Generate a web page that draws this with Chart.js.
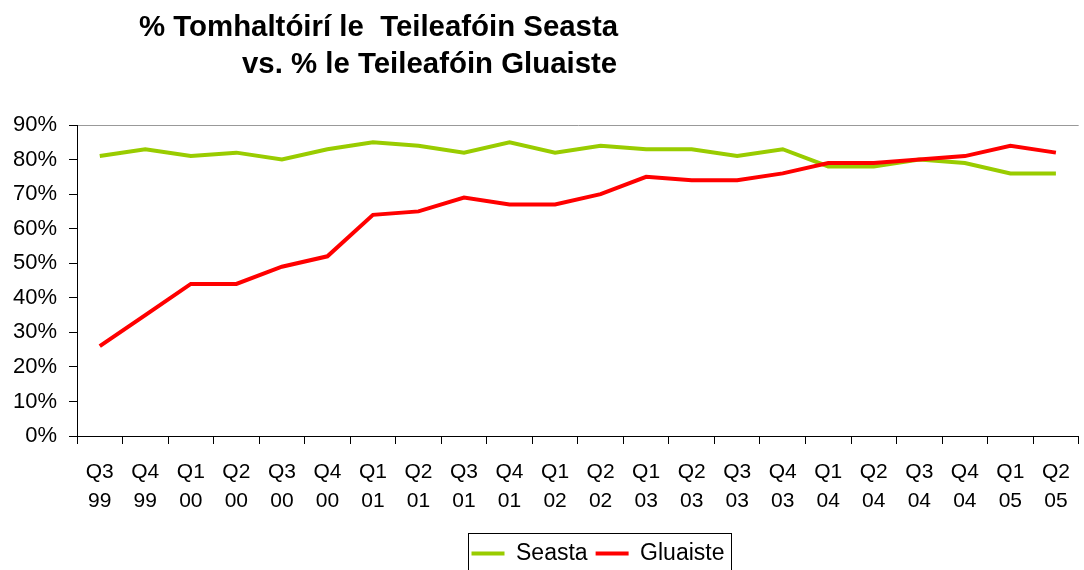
<!DOCTYPE html>
<html><head><meta charset="utf-8">
<script src="https://cdn.jsdelivr.net/npm/chart.js@4.4.0/dist/chart.umd.min.js"></script>
<style>
html,body{margin:0;padding:0;background:#fff;}
#wrap{position:relative;width:1084px;height:570px;overflow:hidden;background:#fff;}
canvas{position:absolute;left:0;top:0;}
.t{position:absolute;font:bold 29.4px 'Liberation Sans',Arial,sans-serif;line-height:29px;white-space:pre;color:#000;}
</style></head><body>
<div id="wrap">
<canvas id="c" width="1084" height="570"></canvas>
<div class="t" style="left:139px;top:10.5px">% Tomhaltóirí le  Teileafóin Seasta</div>
<div class="t" style="left:242px;top:47.5px">vs. % le Teileafóin Gluaiste</div>
</div>
<script>
const categories = ['Q3 99','Q4 99','Q1 00','Q2 00','Q3 00','Q4 00','Q1 01','Q2 01','Q3 01','Q4 01','Q1 02','Q2 02','Q1 03','Q2 03','Q3 03','Q4 03','Q1 04','Q2 04','Q3 04','Q4 04','Q1 05','Q2 05'];
const seasta = [81,83,81,82,80,83,85,84,82,85,82,84,83,83,81,83,78,78,80,79,76,76];
const gluaiste = [26,35,44,44,49,52,64,65,69,67,67,70,75,74,74,76,79,79,80,81,84,82];
const yTicks = [0,10,20,30,40,50,60,70,80,90];
const seriesNames = ['Seasta','Gluaiste'];

const FONT = "'Liberation Sans', Arial, sans-serif";
const LEGEND_CENTER = 598;

const legendFrame = {
  id: 'legendFrame',
  afterUpdate(chart) {
    const lg = chart.legend;
    if (!lg || !lg.legendHitBoxes || !lg.legendHitBoxes.length) return;
    const hb = lg.legendHitBoxes;
    const c = (hb[0].left + hb[hb.length-1].left + hb[hb.length-1].width) / 2;
    const dx = LEGEND_CENTER - c;
    lg.left += dx; lg.right += dx;
    lg.adjustHitBoxes();
  },
  afterDraw(chart) {
    const lg = chart.legend;
    const hb = lg.legendHitBoxes;
    const ctx = chart.ctx;
    const l = Math.round(hb[0].left - 4) + 0.5;
    const r = Math.round(hb[hb.length-1].left + hb[hb.length-1].width + 7) + 0.5;
    const t = Math.round(lg.top) - 0.5;
    ctx.save();
    ctx.strokeStyle = '#000';
    ctx.lineWidth = 1;
    ctx.strokeRect(l, t, r - l, 60);
    ctx.restore();
  }
};

new Chart(document.getElementById('c'), {
  type: 'line',
  data: {
    labels: categories.map(c => c.split(' ')),
    datasets: [
      { label: seriesNames[0], data: seasta, borderColor: '#99cc00', backgroundColor: '#99cc00', borderWidth: 4, pointRadius: 0, tension: 0, order: 1 },
      { label: seriesNames[1], data: gluaiste, borderColor: '#ff0000', backgroundColor: '#ff0000', borderWidth: 4, pointRadius: 0, tension: 0, order: 0 }
    ]
  },
  options: {
    responsive: false,
    devicePixelRatio: 1,
    animation: false,
    layout: { padding: { left: 0, right: 4, top: 125, bottom: -5 } },
    plugins: {
      title: { display: false },
      tooltip: { enabled: false },
      legend: {
        position: 'bottom',
        labels: {
          font: { family: FONT, size: 23 },
          color: '#000',
          boxWidth: 33,
          boxHeight: 4,
          padding: 8,
          generateLabels: chart => chart.data.datasets.map((ds, i) => ({
            text: ds.label, fillStyle: ds.borderColor, strokeStyle: ds.borderColor,
            lineWidth: 0, hidden: false, datasetIndex: i, fontColor: '#000'
          }))
        }
      }
    },
    scales: {
      x: {
        type: 'category',
        offset: true,
        afterFit: s => { s.height = 98; },
        grid: { offset: true, drawOnChartArea: false, tickLength: 8, tickColor: '#000', color: '#000' },
        border: { display: true, color: '#000', width: 1 },
        ticks: { color: '#000', font: { family: FONT, size: 21, lineHeight: 1.36 }, padding: 14, maxRotation: 0, autoSkip: false }
      },
      y: {
        min: 0, max: 90,
        afterFit: s => { s.width = 77; },
        afterBuildTicks: s => { s.ticks = yTicks.map(v => ({ value: v })); },
        grid: {
          drawOnChartArea: true, tickLength: 8, tickColor: '#000',
          color: ctx => (ctx.tick && ctx.tick.value === 90) ? '#999999' : 'rgba(0,0,0,0)'
        },
        border: { display: true, color: '#000', width: 1 },
        ticks: { color: '#000', font: { family: FONT, size: 22 }, padding: 12, callback: v => v + '%' }
      }
    }
  },
  plugins: [legendFrame]
});
</script>
</body></html>
